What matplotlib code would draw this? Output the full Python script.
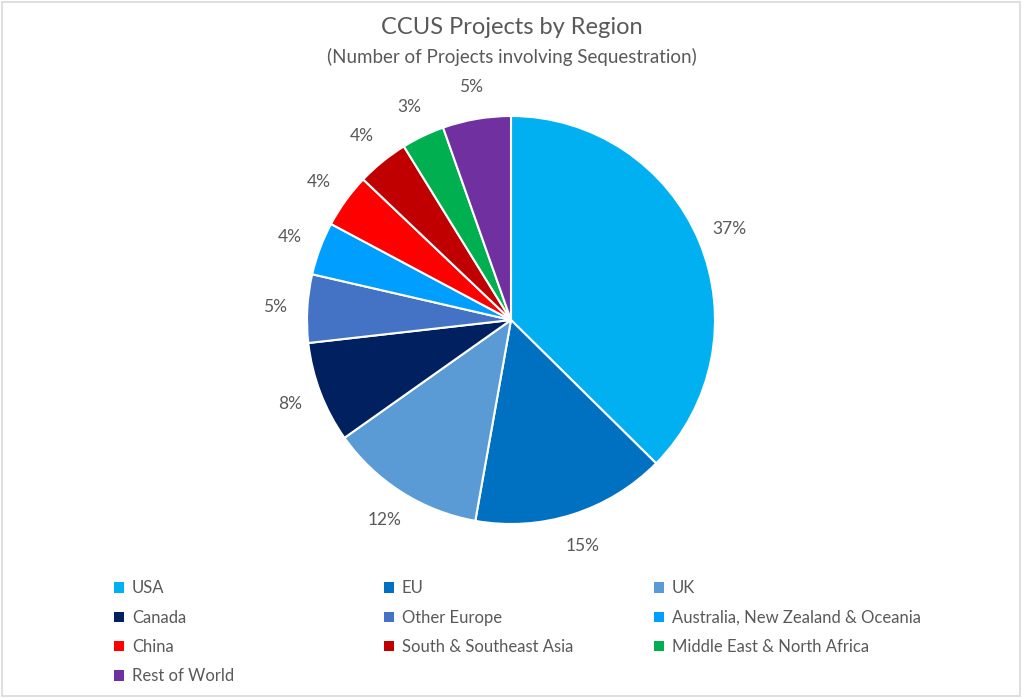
"""
Круговая диаграмма: проекты CCUS по регионам
"""

import matplotlib.pyplot as plt
from matplotlib.patches import Rectangle

# Данные (доли, оценены по картинке)
regions = ['USA', 'EU', 'UK', 'Canada', 'Other Europe',
           'Australia, New Zealand & Oceania', 'China',
           'South & Southeast Asia', 'Middle East & North Africa',
           'Rest of World']
shares = [37.4, 15.4, 12.4, 8.0, 5.4, 4.2, 4.3, 4.1, 3.4, 5.4]
colors = ['#00B0F0', '#0070C0', '#5B9BD5', '#002060', '#4472C4',
          '#009EFF', '#FF0000', '#C00000', '#00B050', '#7030A0']

title = 'CCUS Projects by Region'
subtitle = '(Number of Projects involving Sequestration)'

plt.rcParams['font.family'] = ['Lato', 'DejaVu Sans']
text_color = '#595959'

W, H = 1024, 698
fig = plt.figure(figsize=(W / 100, H / 100), dpi=100)

# рамка вокруг диаграммы
fig.patches.append(Rectangle((2 / W, 2 / H), 1018 / W, 694 / H,
                             transform=fig.transFigure, fill=False,
                             edgecolor='#D9D9D9', linewidth=1.2))

# Оси под круг: центр (511, 320), радиус 204 px
cx, cy, r = 511, 320, 204
ax = fig.add_axes([(cx - r) / W, (H - cy - r) / H, 2 * r / W, 2 * r / H])

wedges, _, autotexts = ax.pie(
    shares, colors=colors, startangle=90, counterclock=False,
    autopct='%.0f%%', pctdistance=1.16,
    wedgeprops=dict(edgecolor='white', linewidth=1.5),
    textprops=dict(color=text_color, fontsize=12.5))
ax.set_aspect('equal')
ax.set_xlim(-1, 1)
ax.set_ylim(-1, 1)

fig.text(0.5, 1 - 28 / H, title, ha='center', va='center',
         fontsize=17, color=text_color)
fig.text(0.5, 1 - 57 / H, subtitle, ha='center', va='center',
         fontsize=13.5, color=text_color)

# Легенда: три колонки, заполняются по строкам
col_x = [106, 376, 646]
for c in range(3):
    idx = list(range(c, len(regions), 3))
    leg = fig.legend([wedges[i] for i in idx], [regions[i] for i in idx],
                     loc='upper left', bbox_to_anchor=(col_x[c] / W, 1 - 572 / H),
                     frameon=False, fontsize=12, handlelength=0.6,
                     handleheight=0.6, handletextpad=0.45, labelspacing=0.8,
                     borderpad=0, labelcolor=text_color)
    for h in leg.legend_handles:
        h.set_linewidth(0)

plt.savefig('out.png', dpi=100)
plt.close()
